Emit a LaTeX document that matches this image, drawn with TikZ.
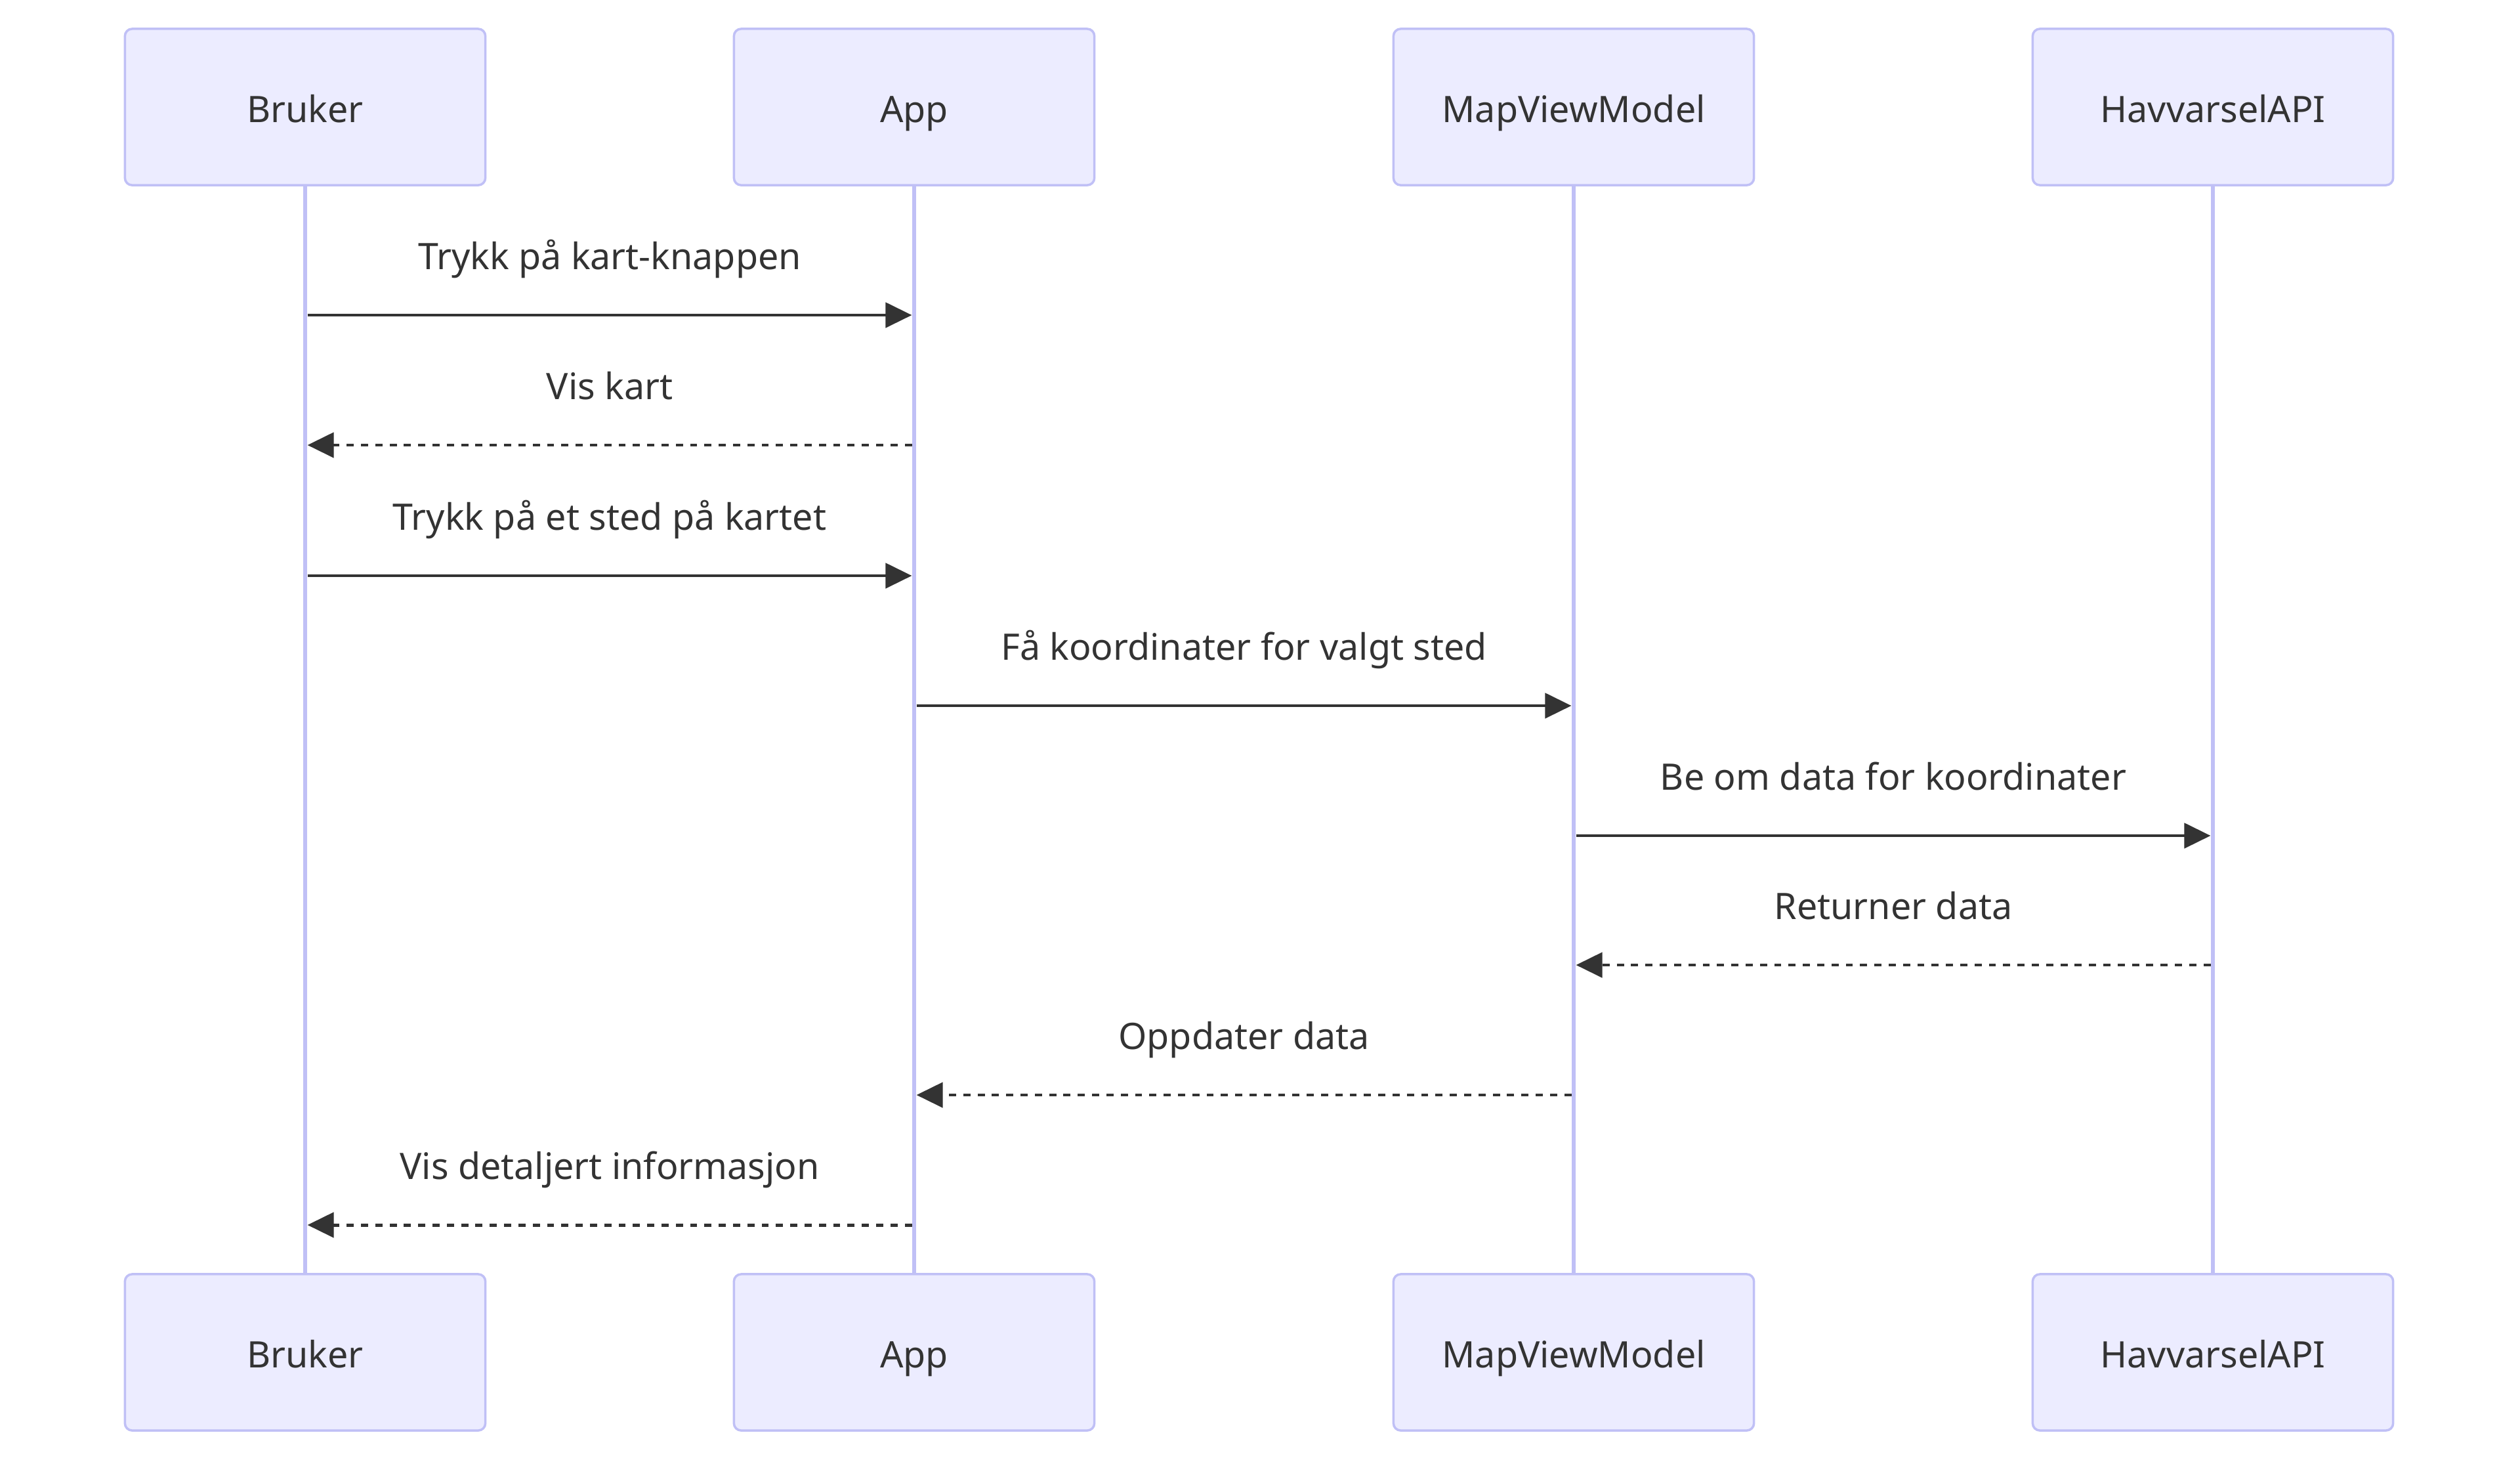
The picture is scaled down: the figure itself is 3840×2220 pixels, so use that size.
\documentclass[tikz,border=0pt]{standalone}
\usepackage{fontspec}
\setmainfont{Noto Sans}
\usepackage{xcolor}
\usepackage{tikz}
\usetikzlibrary{arrows.meta,positioning,calc}
\definecolor{afill}{HTML}{ECECFF}
\definecolor{aline}{HTML}{C0C0F6}
\definecolor{ink}{HTML}{333333}

\begin{document}
\begin{tikzpicture}[x=0.01cm,y=-0.01cm,
    every node/.style={font=\fontsize{15.8}{19}\selectfont,text=ink},
    actor/.style={draw=aline,line width=1pt,fill=afill,rounded corners=0.11cm,
                  minimum width=5.49cm,minimum height=2.38cm,inner sep=0pt,
                  text height=0.47cm,text depth=0pt},
    life/.style={draw=aline,line width=1.9pt},
    msg/.style={draw=ink,line width=1.4pt,shorten <=1pt,shorten >=1pt,
                -{Triangle[length=11.4pt,width=10.8pt]}},
    reply/.style={msg,dash pattern=on 3.1pt off 3.1pt},
    lbl/.style={anchor=base,yshift=0.69cm,inner sep=0pt}]
  \useasboundingbox (0,0) rectangle (3840,2220);
  % actors, top and bottom
  \node[actor] (bruker)  at (465,163)  {Bruker};
  \node[actor] (app)     at (1393,163) {App};
  \node[actor] (mvm)     at (2398,163) {MapViewModel};
  \node[actor] (api)     at (3372,163) {HavvarselAPI};
  \node[actor] (bruker2) at (465,2060)  {Bruker};
  \node[actor] (app2)    at (1393,2060) {App};
  \node[actor] (mvm2)    at (2398,2060) {MapViewModel};
  \node[actor] (api2)    at (3372,2060) {HavvarselAPI};
  % lifelines
  \draw[life] (bruker.south) -- (bruker2.north);
  \draw[life] (app.south) -- (app2.north);
  \draw[life] (mvm.south) -- (mvm2.north);
  \draw[life] (api.south) -- (api2.north);
  % message rows
  \coordinate (m1) at (0,480);
  \coordinate (m2) at (0,678);
  \coordinate (m3) at (0,877);
  \coordinate (m4) at (0,1075);
  \coordinate (m5) at (0,1273);
  \coordinate (m6) at (0,1470);
  \coordinate (m7) at (0,1668);
  \coordinate (m8) at (0,1866);
  \draw[msg] (bruker |- m1) -- node[lbl] {Trykk på kart-knappen} (app |- m1);
  \draw[reply] (app |- m2) -- node[lbl] {Vis kart} (bruker |- m2);
  \draw[msg] (bruker |- m3) -- node[lbl] {Trykk på et sted på kartet} (app |- m3);
  \draw[msg] (app |- m4) -- node[lbl] {Få koordinater for valgt sted} (mvm |- m4);
  \draw[msg] (mvm |- m5) -- node[lbl] {Be om data for koordinater} (api |- m5);
  \draw[reply] (api |- m6) -- node[lbl] {Returner data} (mvm |- m6);
  \draw[reply] (mvm |- m7) -- node[lbl] {Oppdater data} (app |- m7);
  \draw[reply] (app |- m8) -- node[lbl] {Vis detaljert informasjon} (bruker |- m8);
\end{tikzpicture}
\end{document}
